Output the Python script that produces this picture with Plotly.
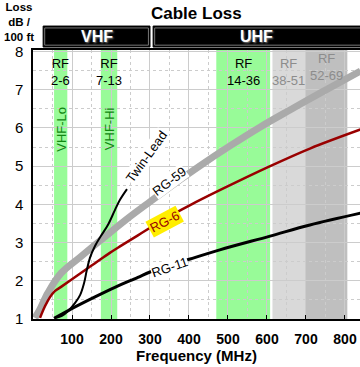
import plotly.graph_objects as go

# ---- data ----
freq_rg59 = [5, 18, 38, 72, 121, 172, 236, 300, 364, 428, 505, 582, 659, 736, 840]
loss_rg59 = [1.03, 1.26, 1.68, 2.20, 2.62, 3.05, 3.58, 4.07, 4.55, 5.01, 5.53, 6.02, 6.47, 6.91, 7.49]

freq_rg6 = [18, 31, 44, 56, 72, 121, 159, 197, 223, 269, 338, 403, 479, 608, 710, 840]
loss_rg6 = [1.03, 1.34, 1.58, 1.73, 1.84, 2.19, 2.46, 2.73, 2.90, 3.19, 3.62, 3.98, 4.37, 5.00, 5.46, 5.96]

freq_rg11 = [54, 74, 97, 159, 210, 269, 300, 403, 479, 608, 710, 840]
loss_rg11 = [1.02, 1.13, 1.26, 1.58, 1.83, 2.09, 2.23, 2.57, 2.81, 3.17, 3.46, 3.77]

freq_twin = [59, 74, 90, 108, 121, 131, 138, 146, 159, 174, 192, 210, 223, 241]
loss_twin = [1.03, 1.08, 1.21, 1.42, 1.63, 1.94, 2.28, 2.60, 2.91, 3.17, 3.46, 3.85, 4.12, 4.40]

band_labels = ["RF<br>2-6", "RF<br>7-13", "RF<br>14-36", "RF<br>38-51", "RF<br>52-69"]
band_lo = [54, 174, 470, 614, 698]
band_hi = [88, 216, 608, 698, 806]
band_fill = ["#98fb98", "#98fb98", "#98fb98", "#d9d9d9", "#bfbfbf"]
band_text = ["black", "black", "black", "#8c8c8c", "#8c8c8c"]
band_label_y = [0.92, 0.92, 0.92, 0.92, 0.937]

side_labels = ["VHF-Lo", "VHF-Hi"]
side_x = [71, 195]

region_names = ["VHF", "UHF"]
region_lo = [26, 308]
region_hi = [300, 900]

x_ticks = [100, 200, 300, 400, 500, 600, 700, 800]
y_ticks = [1, 2, 3, 4, 5, 6, 7, 8]

FONT = "Liberation Sans, Arial, Helvetica, sans-serif"

fig = go.Figure()

fig.add_trace(go.Scatter(x=freq_rg59, y=loss_rg59, mode="lines",
                         line=dict(color="#aaaaaa", width=7, shape="spline"),
                         hoverinfo="skip", showlegend=False))
fig.add_trace(go.Scatter(x=freq_rg6, y=loss_rg6, mode="lines",
                         line=dict(color="#990000", width=2.5, shape="spline"),
                         hoverinfo="skip", showlegend=False))
fig.add_trace(go.Scatter(x=freq_rg11, y=loss_rg11, mode="lines",
                         line=dict(color="black", width=3, shape="spline"),
                         hoverinfo="skip", showlegend=False))
fig.add_trace(go.Scatter(x=freq_twin, y=loss_twin, mode="lines",
                         line=dict(color="black", width=2, shape="spline"),
                         hoverinfo="skip", showlegend=False))

shapes = []
annotations = []

def ann(**kw):
    kw.setdefault("showarrow", False)
    kw.setdefault("xanchor", "center")
    kw.setdefault("yanchor", "middle")
    annotations.append(kw)

# channel bands
for lo, hi, col, lab, tc, ly in zip(band_lo, band_hi, band_fill, band_labels, band_text, band_label_y):
    shapes.append(dict(type="rect", xref="x", yref="paper", x0=lo, x1=hi, y0=0, y1=1,
                       fillcolor=col, line=dict(width=0), layer="below"))
    ann(x=(lo + hi) / 2, y=ly, xref="x", yref="paper", text=lab,
        font=dict(family=FONT, size=13, color=tc))

for lab, sx in zip(side_labels, side_x):
    ann(x=sx, y=0.706, xref="x", yref="paper", text=lab, textangle=-90,
        font=dict(family=FONT, size=13, color="#118811"))

# region banners
for name, lo, hi in zip(region_names, region_lo, region_hi):
    shapes.append(dict(type="rect", xref="x", yref="paper", x0=lo, x1=hi, y0=1.011, y1=1.089,
                       fillcolor="black", line=dict(color="black", width=1)))
    shapes.append(dict(type="rect", xref="x", yref="paper", x0=lo + 4, x1=hi - 4, y0=1.018, y1=1.082,
                       fillcolor="rgba(0,0,0,0)", line=dict(color="#777777", width=1)))
    ann(x=(lo + min(hi, 838)) / 2, y=1.05, xref="x", yref="paper", text="<b>%s</b>" % name,
        font=dict(family=FONT, size=16, color="white", shadow="1px 1px 2px #888"))

# curve labels
ann(x=292, y=5.24, text="Twin-Lead", textangle=-54, bgcolor="white", borderpad=0,
    font=dict(family=FONT, size=13, color="black"))
ann(x=349, y=4.61, text="RG-59", textangle=-37, bgcolor="white", borderpad=0,
    font=dict(family=FONT, size=13, color="black"))
ann(x=338, y=3.56, text="RG-6", textangle=-28, bgcolor="#ffee00", borderpad=1,
    font=dict(family=FONT, size=13, color="#990000"))
ann(x=349, y=2.36, text="RG-11", textangle=-19, bgcolor="white", borderpad=0,
    font=dict(family=FONT, size=13, color="black"))

# titles
ann(x=0.5015, y=1.134, xref="paper", yref="paper", text="<b>Cable Loss</b>",
    font=dict(family=FONT, size=17, color="black"))
ann(x=-0.043, y=1.104, xref="paper", yref="paper", text="<b>Loss<br>dB /<br>100 ft</b>",
    font=dict(family=FONT, size=11.5, color="black"))

fig.update_layout(
    width=360, height=367,
    margin=dict(l=33, r=0, t=50, b=48, autoexpand=False),
    paper_bgcolor="white", plot_bgcolor="white",
    shapes=shapes, annotations=annotations,
    showlegend=False,
    font=dict(family=FONT, size=14, color="black"),
)

fig.update_xaxes(
    range=[0, 838.5], tickvals=x_ticks, ticktext=["<b>%d</b>" % v for v in x_ticks],
    tickfont=dict(family=FONT, size=14, color="black"),
    ticks="inside", ticklen=4, tickcolor="black", tickwidth=1,
    showline=True, linecolor="black", linewidth=1.5, mirror=True,
    showgrid=True, gridcolor="#cccccc", gridwidth=1,
    minor=dict(dtick=50, tick0=0, showgrid=True, gridcolor="#cccccc", griddash="dot", ticks=""),
    title=dict(text="<b>Frequency (MHz)</b>", font=dict(family=FONT, size=15, color="black"), standoff=4),
    ticklabelstandoff=6, zeroline=False,
)
fig.update_yaxes(
    range=[1, 8.04], tickvals=y_ticks,
    tickfont=dict(family=FONT, size=15, color="black"),
    ticks="", showline=True, linecolor="black", linewidth=1.5, mirror=False,
    showgrid=True, gridcolor="#cccccc", gridwidth=1,
    minor=dict(dtick=0.5, tick0=0, showgrid=True, gridcolor="#cccccc", griddash="dot", ticks=""),
    ticklabelstandoff=5, zeroline=False,
)

fig.write_html("out.html", config={"displayModeBar": False},
               post_script="document.body.style.margin='0';document.body.style.overflow='hidden';")
